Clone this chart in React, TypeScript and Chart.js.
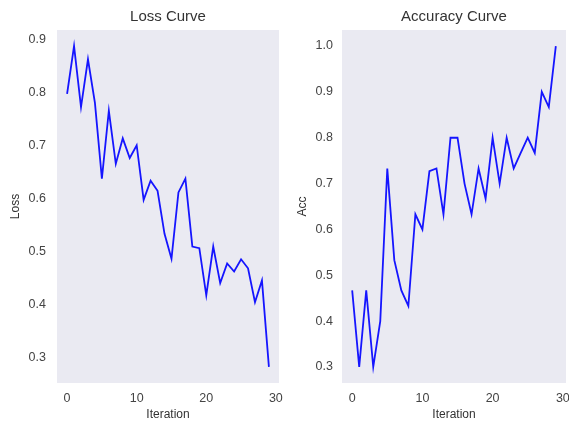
import React, { useEffect, useRef } from "react";
import { Chart, registerables } from "chart.js";

Chart.register(...registerables);

const ITERATIONS = [0, 1, 2, 3, 4, 5, 6, 7, 8, 9, 10, 11, 12, 13, 14, 15, 16, 17, 18, 19, 20, 21, 22, 23, 24, 25, 26, 27, 28, 29];
const LOSS = [0.797, 0.887, 0.772, 0.862, 0.78, 0.637, 0.765, 0.665, 0.713, 0.676, 0.7, 0.597, 0.633, 0.614, 0.533, 0.486, 0.611, 0.637, 0.509, 0.506, 0.417, 0.509, 0.44, 0.477, 0.462, 0.485, 0.468, 0.404, 0.445, 0.282];
const ACC = [0.467, 0.3, 0.467, 0.3, 0.4, 0.733, 0.533, 0.467, 0.433, 0.633, 0.6, 0.727, 0.733, 0.633, 0.8, 0.8, 0.7, 0.633, 0.733, 0.667, 0.8, 0.7, 0.8, 0.733, 0.767, 0.8, 0.767, 0.9, 0.867, 1.0];

const X_TICKS = [0, 10, 20, 30];
const LOSS_TICKS = [0.3, 0.4, 0.5, 0.6, 0.7, 0.8, 0.9];
const ACC_TICKS = [0.3, 0.4, 0.5, 0.6, 0.7, 0.8, 0.9, 1.0];

const FONT = "'Liberation Sans', Arial, sans-serif";

const bgPlugin = {
  id: "axesBg",
  beforeDraw(chart: any) {
    const { ctx, chartArea } = chart;
    ctx.save();
    ctx.fillStyle = "#EAEAF2";
    ctx.fillRect(chartArea.left, chartArea.top, chartArea.right - chartArea.left, chartArea.bottom - chartArea.top);
    ctx.restore();
  },
};

function makeConfig(opts: {
  title: string;
  ylabel: string;
  values: number[];
  yTicks: number[];
  yMin: number;
  yMax: number;
  padRight: number;
  yTitlePad: number;
  yTickPad: number;
}) {
  return {
    type: "line",
    data: {
      datasets: [
        {
          data: ITERATIONS.map((x, i) => ({ x, y: opts.values[i] })),
          borderColor: "#1515ff",
          borderWidth: 1.8,
          pointRadius: 0,
          tension: 0,
          fill: false,
        },
      ],
    },
    options: {
      animation: false,
      responsive: false,
      maintainAspectRatio: false,
      layout: { padding: { left: 0, right: opts.padRight, top: 0, bottom: 0 } },
      plugins: {
        legend: { display: false },
        tooltip: { enabled: false },
        title: {
          display: true,
          text: opts.title,
          fullSize: false,
          color: "#333",
          font: { family: FONT, size: 15, weight: "normal" },
          padding: { top: 8, bottom: 4 },
        },
      },
      scales: {
        x: {
          type: "linear",
          min: -1.45,
          max: 30.45,
          grid: { display: false, drawTicks: true, tickLength: 8 },
          border: { display: false },
          afterBuildTicks: (s: any) => {
            s.ticks = X_TICKS.map((v) => ({ value: v }));
          },
          afterFit: (s: any) => {
            s.height = 41;
          },
          ticks: {
            color: "#444",
            font: { family: FONT, size: 12.5 },
            padding: 0,
            maxRotation: 0,
            autoSkip: false,
            callback: (v: any) => String(v),
          },
          title: {
            display: true,
            text: "Iteration",
            color: "#333",
            font: { family: FONT, size: 12 },
            padding: { top: 0, bottom: 2 },
          },
        },
        y: {
          type: "linear",
          min: opts.yMin,
          max: opts.yMax,
          grid: { display: false, drawTicks: false },
          border: { display: false },
          afterBuildTicks: (s: any) => {
            s.ticks = opts.yTicks.map((v) => ({ value: v }));
          },
          afterFit: (s: any) => {
            s.width = 57;
          },
          ticks: {
            color: "#444",
            font: { family: FONT, size: 12.5 },
            padding: opts.yTickPad,
            autoSkip: false,
            callback: (v: any) => Number(v).toFixed(1),
          },
          title: {
            display: true,
            text: opts.ylabel,
            color: "#333",
            font: { family: FONT, size: 12 },
            padding: { top: opts.yTitlePad, bottom: 0 },
          },
        },
      },
    },
    plugins: [bgPlugin],
  } as any;
}

export default function App() {
  const leftRef = useRef<HTMLCanvasElement>(null);
  const rightRef = useRef<HTMLCanvasElement>(null);

  useEffect(() => {
    const c1 = new Chart(
      leftRef.current!,
      makeConfig({
        title: "Loss Curve",
        ylabel: "Loss",
        values: LOSS,
        yTicks: LOSS_TICKS,
        yMin: 0.2517,
        yMax: 0.9173,
        padRight: 6,
        yTitlePad: 8,
        yTickPad: 11,
      })
    );
    const c2 = new Chart(
      rightRef.current!,
      makeConfig({
        title: "Accuracy Curve",
        ylabel: "Acc",
        values: ACC,
        yTicks: ACC_TICKS,
        yMin: 0.265,
        yMax: 1.035,
        padRight: 9,
        yTitlePad: 10,
        yTickPad: 9,
      })
    );
    return () => {
      c1.destroy();
      c2.destroy();
    };
  }, []);

  return (
    <div
      style={{
        position: "fixed",
        left: 0,
        top: 0,
        width: 569,
        height: 424,
        overflow: "hidden",
        background: "#fff",
      }}
    >
      <canvas ref={leftRef} width={285} height={424} style={{ position: "absolute", left: 0, top: 0, width: 285, height: 424 }} />
      <canvas ref={rightRef} width={290} height={424} style={{ position: "absolute", left: 285, top: 0, width: 290, height: 424 }} />
    </div>
  );
}
